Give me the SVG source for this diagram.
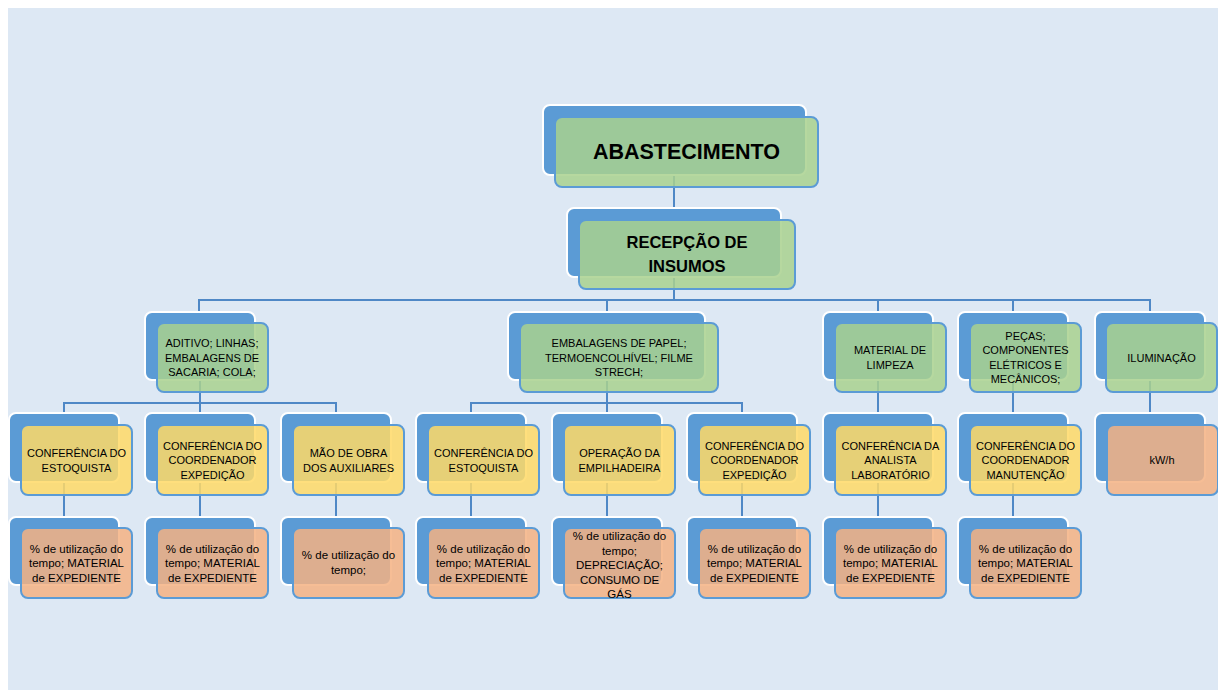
<svg xmlns="http://www.w3.org/2000/svg" width="1218" height="690" viewBox="0 0 1218 690">
  <style>
    .bg { fill: #DDE8F4; }
    .conn { fill: none; stroke: #4F88C6; stroke-width: 2; }
    .back { fill: #5B9BD5; stroke: #FFFFFF; stroke-width: 2; }
    .fg { stroke: #5B9BD5; stroke-width: 2; }
    .green { fill: #A9D18E; fill-opacity: 0.85; }
    .yellow { fill: #FFD966; fill-opacity: 0.85; }
    .orange { fill: #F4B183; fill-opacity: 0.85; }
    text { font-family: "Liberation Sans", Arial, sans-serif; fill: #000000; text-anchor: middle; }
    .t { font-size: 11px; }
    .to { font-size: 11.5px; }
    .big { font-size: 21.5px; font-weight: bold; }
    .mid { font-size: 16.5px; font-weight: bold; }
  </style>

  <rect class="bg" x="8" y="8" width="1210" height="682"/>

  <!-- connectors (drawn under the boxes) -->
  <g id="connectors">
    <path class="conn" d="M674,175 V208"/>
    <path class="conn" d="M674,277 V300 M199,312 V300 H1150 V312 M607,300 V312 M878,300 V312 M1013,300 V312"/>
    <path class="conn" d="M200,380 V403 M64,413 V403 H336 V413 M200,403 V413"/>
    <path class="conn" d="M607,380 V403 M471,413 V403 H742 V413 M607,403 V413"/>
    <path class="conn" d="M878,380 V413 M1013,380 V413 M1150,380 V413"/>
    <path class="conn" d="M64,482 V517 M200,482 V517 M336,482 V517 M471,482 V517 M607,482 V517 M742,482 V517 M878,482 V517 M1013,482 V517"/>
  </g>

  <!-- level 0 -->
  <g id="abastecimento">
    <rect class="back" x="543" y="105" width="263" height="70" rx="7"/>
    <rect class="fg green" x="555" y="117" width="263" height="70" rx="7"/>
    <text class="big" x="686.5" y="159">ABASTECIMENTO</text>
  </g>

  <!-- level 1 -->
  <g id="recepcao">
    <rect class="back" x="567" y="208" width="214" height="69" rx="7"/>
    <rect class="fg green" x="579" y="220" width="216" height="69" rx="7"/>
    <text class="mid" x="687" y="248">RECEPÇÃO DE</text>
    <text class="mid" x="687" y="272">INSUMOS</text>
  </g>

  <!-- level 2 -->
  <g id="aditivo">
    <rect class="back" x="145" y="312" width="110" height="68" rx="7"/>
    <rect class="fg green" x="157" y="323" width="111" height="69" rx="7"/>
    <text class="t" x="212" y="347">ADITIVO; LINHAS;</text>
    <text class="t" x="212" y="361.5">EMBALAGENS DE</text>
    <text class="t" x="212" y="376">SACARIA; COLA;</text>
  </g>
  <g id="embalagens">
    <rect class="back" x="508" y="312" width="197" height="68" rx="7"/>
    <rect class="fg green" x="520" y="323" width="198" height="69" rx="7"/>
    <text class="t" x="619" y="347">EMBALAGENS DE PAPEL;</text>
    <text class="t" x="619" y="361.5">TERMOENCOLHÍVEL; FILME</text>
    <text class="t" x="619" y="376">STRECH;</text>
  </g>
  <g id="limpeza">
    <rect class="back" x="823" y="312" width="110" height="68" rx="7"/>
    <rect class="fg green" x="835" y="323" width="111" height="69" rx="7"/>
    <text class="t" x="890" y="354">MATERIAL DE</text>
    <text class="t" x="890" y="368.5">LIMPEZA</text>
  </g>
  <g id="pecas">
    <rect class="back" x="958" y="312" width="110" height="68" rx="7"/>
    <rect class="fg green" x="970" y="323" width="111" height="69" rx="7"/>
    <text class="t" x="1025.5" y="339.5">PEÇAS;</text>
    <text class="t" x="1025.5" y="354">COMPONENTES</text>
    <text class="t" x="1025.5" y="368.5">ELÉTRICOS E</text>
    <text class="t" x="1025.5" y="383">MECÂNICOS;</text>
  </g>
  <g id="iluminacao">
    <rect class="back" x="1095" y="312" width="110" height="68" rx="7"/>
    <rect class="fg green" x="1106" y="323" width="111" height="69" rx="7"/>
    <text class="t" x="1161.5" y="362">ILUMINAÇÃO</text>
  </g>

  <!-- level 3 -->
  <g id="conf-estoquista-1">
    <rect class="back" x="9" y="413" width="110" height="69" rx="7"/>
    <rect class="fg yellow" x="21" y="425" width="111" height="70" rx="7"/>
    <text class="t" x="76.5" y="457">CONFERÊNCIA DO</text>
    <text class="t" x="76.5" y="471.5">ESTOQUISTA</text>
  </g>
  <g id="conf-coordenador-1">
    <rect class="back" x="145" y="413" width="110" height="69" rx="7"/>
    <rect class="fg yellow" x="157" y="425" width="111" height="70" rx="7"/>
    <text class="t" x="212.5" y="449.5">CONFERÊNCIA DO</text>
    <text class="t" x="212.5" y="464">COORDENADOR</text>
    <text class="t" x="212.5" y="478.5">EXPEDIÇÃO</text>
  </g>
  <g id="mao-de-obra">
    <rect class="back" x="281" y="413" width="110" height="69" rx="7"/>
    <rect class="fg yellow" x="293" y="425" width="111" height="70" rx="7"/>
    <text class="t" x="348.5" y="457">MÃO DE OBRA</text>
    <text class="t" x="348.5" y="471.5">DOS AUXILIARES</text>
  </g>
  <g id="conf-estoquista-2">
    <rect class="back" x="416" y="413" width="110" height="69" rx="7"/>
    <rect class="fg yellow" x="428" y="425" width="111" height="70" rx="7"/>
    <text class="t" x="483.5" y="457">CONFERÊNCIA DO</text>
    <text class="t" x="483.5" y="471.5">ESTOQUISTA</text>
  </g>
  <g id="operacao-empilhadeira">
    <rect class="back" x="552" y="413" width="110" height="69" rx="7"/>
    <rect class="fg yellow" x="564" y="425" width="111" height="70" rx="7"/>
    <text class="t" x="619.5" y="457">OPERAÇÃO DA</text>
    <text class="t" x="619.5" y="471.5">EMPILHADEIRA</text>
  </g>
  <g id="conf-coordenador-2">
    <rect class="back" x="687" y="413" width="110" height="69" rx="7"/>
    <rect class="fg yellow" x="699" y="425" width="111" height="70" rx="7"/>
    <text class="t" x="754.5" y="449.5">CONFERÊNCIA DO</text>
    <text class="t" x="754.5" y="464">COORDENADOR</text>
    <text class="t" x="754.5" y="478.5">EXPEDIÇÃO</text>
  </g>
  <g id="conf-analista">
    <rect class="back" x="823" y="413" width="110" height="69" rx="7"/>
    <rect class="fg yellow" x="835" y="425" width="111" height="70" rx="7"/>
    <text class="t" x="890.5" y="449.5">CONFERÊNCIA DA</text>
    <text class="t" x="890.5" y="464">ANALISTA</text>
    <text class="t" x="890.5" y="478.5">LABORATÓRIO</text>
  </g>
  <g id="conf-manutencao">
    <rect class="back" x="958" y="413" width="110" height="69" rx="7"/>
    <rect class="fg yellow" x="970" y="425" width="111" height="70" rx="7"/>
    <text class="t" x="1025.5" y="449.5">CONFERÊNCIA DO</text>
    <text class="t" x="1025.5" y="464">COORDENADOR</text>
    <text class="t" x="1025.5" y="478.5">MANUTENÇÃO</text>
  </g>
  <g id="kwh">
    <rect class="back" x="1095" y="413" width="110" height="69" rx="7"/>
    <rect class="fg orange" x="1107" y="425" width="111" height="70" rx="7"/>
    <text class="t" x="1162" y="463.5">kW/h</text>
  </g>

  <!-- level 4 -->
  <g id="custo-1">
    <rect class="back" x="9" y="517" width="110" height="68" rx="7"/>
    <rect class="fg orange" x="21" y="528" width="111" height="70" rx="7"/>
    <text class="to" x="76.5" y="552.5">% de utilização do</text>
    <text class="to" x="76.5" y="567">tempo; MATERIAL</text>
    <text class="to" x="76.5" y="581.5">de EXPEDIENTE</text>
  </g>
  <g id="custo-2">
    <rect class="back" x="145" y="517" width="110" height="68" rx="7"/>
    <rect class="fg orange" x="157" y="528" width="111" height="70" rx="7"/>
    <text class="to" x="212.5" y="552.5">% de utilização do</text>
    <text class="to" x="212.5" y="567">tempo; MATERIAL</text>
    <text class="to" x="212.5" y="581.5">de EXPEDIENTE</text>
  </g>
  <g id="custo-3">
    <rect class="back" x="281" y="517" width="110" height="68" rx="7"/>
    <rect class="fg orange" x="293" y="528" width="111" height="70" rx="7"/>
    <text class="to" x="348.5" y="559">% de utilização do</text>
    <text class="to" x="348.5" y="573.5">tempo;</text>
  </g>
  <g id="custo-4">
    <rect class="back" x="416" y="517" width="110" height="68" rx="7"/>
    <rect class="fg orange" x="428" y="528" width="111" height="70" rx="7"/>
    <text class="to" x="483.5" y="552.5">% de utilização do</text>
    <text class="to" x="483.5" y="567">tempo; MATERIAL</text>
    <text class="to" x="483.5" y="581.5">de EXPEDIENTE</text>
  </g>
  <g id="custo-5">
    <rect class="back" x="552" y="517" width="110" height="68" rx="7"/>
    <rect class="fg orange" x="564" y="528" width="111" height="70" rx="7"/>
    <text class="to" x="619.5" y="540">% de utilização do</text>
    <text class="to" x="619.5" y="554.5">tempo;</text>
    <text class="to" x="619.5" y="569">DEPRECIAÇÃO;</text>
    <text class="to" x="619.5" y="583.5">CONSUMO DE</text>
    <text class="to" x="619.5" y="597.5">GÁS</text>
  </g>
  <g id="custo-6">
    <rect class="back" x="687" y="517" width="110" height="68" rx="7"/>
    <rect class="fg orange" x="699" y="528" width="111" height="70" rx="7"/>
    <text class="to" x="754.5" y="552.5">% de utilização do</text>
    <text class="to" x="754.5" y="567">tempo; MATERIAL</text>
    <text class="to" x="754.5" y="581.5">de EXPEDIENTE</text>
  </g>
  <g id="custo-7">
    <rect class="back" x="823" y="517" width="110" height="68" rx="7"/>
    <rect class="fg orange" x="835" y="528" width="111" height="70" rx="7"/>
    <text class="to" x="890.5" y="552.5">% de utilização do</text>
    <text class="to" x="890.5" y="567">tempo; MATERIAL</text>
    <text class="to" x="890.5" y="581.5">de EXPEDIENTE</text>
  </g>
  <g id="custo-8">
    <rect class="back" x="958" y="517" width="110" height="68" rx="7"/>
    <rect class="fg orange" x="970" y="528" width="111" height="70" rx="7"/>
    <text class="to" x="1025.5" y="552.5">% de utilização do</text>
    <text class="to" x="1025.5" y="567">tempo; MATERIAL</text>
    <text class="to" x="1025.5" y="581.5">de EXPEDIENTE</text>
  </g>
</svg>
